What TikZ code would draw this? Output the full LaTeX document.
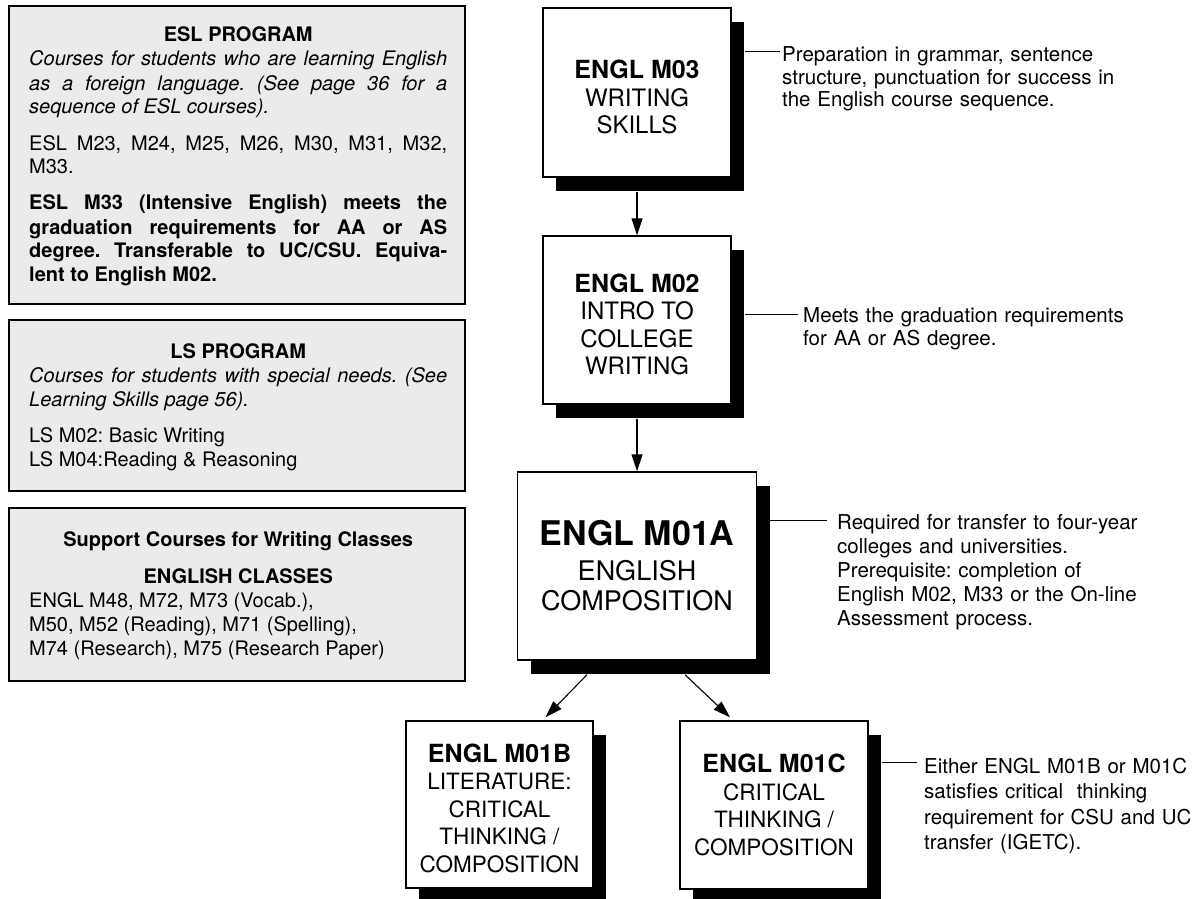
\documentclass[tikz,border=0pt]{standalone}
\usepackage{fontspec}
\setmainfont{TeX Gyre Heros}
\usetikzlibrary{shadows,arrows.meta,calc}
\definecolor{boxgray}{HTML}{EBEBEB}
\setlength{\parindent}{0pt}
\tolerance=10000
\hyphenpenalty=10000
\frenchspacing
\begin{document}
\begin{tikzpicture}[x=1pt,y=-1pt,
  infobox/.style={draw, line width=2.4pt, fill=boxgray, minimum width=456pt, inner sep=0pt},
  infotext/.style={anchor=base west, text width=418pt, align=justify, inner sep=0pt, font=\fontsize{20}{24}\selectfont},
  course/.style={draw, line width=1.4pt, fill=white, align=center, inner sep=0pt,
    drop shadow={shadow xshift=13pt, shadow yshift=-14pt, opacity=1, fill=black},
    font=\fontsize{24}{27.5}\selectfont},
  desc/.style={anchor=base west, text width=360pt, align=left, inner sep=0pt, font=\fontsize{20.5}{23.5}\selectfont},
  conn/.style={line width=1pt},
  arr/.style={line width=1.1pt, -{Triangle[length=17pt,width=11pt]}}
]
\path[use as bounding box, fill=white] (0,0) rectangle (1202,899);

% left info boxes
\node[infobox, minimum height=298pt] (esl) at (237,155) {};
\node[infotext] (esltxt) at (29,42) {%
{\centering\bfseries ESL PROGRAM\par}
{\itshape Courses for students who are learning English\linebreak as a foreign language. (See page 36 for a\linebreak sequence of ESL courses).\par}
\vspace{12pt}
ESL M23, M24, M25, M26, M30, M31, M32,\linebreak M33.\par
\vspace{12pt}
{\bfseries ESL M33 (Intensive English) meets the\linebreak graduation requirements for AA or AS\linebreak degree. Transferable to UC/CSU. Equiva-\linebreak lent to English M02.\par}};

\node[infobox, minimum height=171pt] (ls) at (237,405.5) {};
\node[infotext] (lstxt) at (29,358) {%
{\centering\bfseries LS PROGRAM\par}
{\itshape Courses for students with special needs. (See\linebreak Learning Skills page 56).\par}
\vspace{12pt}
LS M02: Basic Writing\par
LS M04:Reading \& Reasoning\par};

\node[infobox, minimum height=173pt] (sup) at (237,594.5) {};
\node[infotext] (suptxt) at (29,546) {%
{\centering\bfseries Support Courses for Writing Classes\par}
\vspace{13pt}
{\centering\bfseries ENGLISH CLASSES\par}
ENGL M48, M72, M73 (Vocab.),\par
M50, M52 (Reading), M71 (Spelling),\par
M74 (Research), M75 (Research Paper)\par};

% course boxes
\node[course, minimum width=188pt, minimum height=169pt] (m03) at (637,92.5)
  {{\bfseries\fontsize{25}{27.5}\selectfont ENGL M03\rule{0pt}{28pt}}\\WRITING\\SKILLS};
\node[course, minimum width=188pt, minimum height=168pt] (m02) at (637,320)
  {{\bfseries\fontsize{25}{27.5}\selectfont ENGL M02\rule{0pt}{27pt}}\\INTRO TO\\COLLEGE\\WRITING};
\node[course, minimum width=239pt, minimum height=188pt, font=\fontsize{27}{30}\selectfont] (m01a) at (637,566)
  {{\bfseries\fontsize{34}{34}\selectfont ENGL M01A}\\[5pt]ENGLISH\\COMPOSITION};
\node[course, minimum width=187pt, minimum height=167pt, font=\fontsize{22.5}{27.5}\selectfont] (m01b) at (499.5,804.5)
  {{\bfseries\fontsize{25}{27.5}\selectfont ENGL M01B\rule{0pt}{26pt}}\\LITERATURE:\\CRITICAL\\THINKING /\\COMPOSITION};
\node[course, minimum width=188pt, minimum height=168pt, font=\fontsize{22.5}{27.5}\selectfont] (m01c) at (774,805)
  {{\bfseries\fontsize{25}{27.5}\selectfont ENGL M01C}\\CRITICAL\\THINKING /\\COMPOSITION};

% arrows
\draw[arr] ($(m03.south)+(0,14)$) -- (m02.north);
\draw[arr] ($(m02.south)+(0,14)$) -- (m01a.north);
\draw[arr] ($(m01a.south)+(-50,14)$) -- ($(m01b.north)+(46,-3)$);
\draw[arr] ($(m01a.south)+(48,14)$) -- ($(m01c.north)+(-44,-3)$);

% descriptions
\node[desc, font=\fontsize{20.5}{22.5}\selectfont] (d03) at (782,62)
  {Preparation in grammar, sentence\\structure, punctuation for success in\\the English course sequence.};
\node[desc, font=\fontsize{20.5}{23}\selectfont] (d02) at (803,322)
  {Meets the graduation requirements\\for AA or AS degree.};
\node[desc, font=\fontsize{20.5}{24.2}\selectfont] (d01a) at (837,529)
  {Required for transfer to four-year\\colleges and universities.\\Prerequisite: completion of\\English M02, M33 or the On-line\\Assessment process.};
\node[desc, font=\fontsize{20.5}{25.5}\selectfont] (d01c) at (924,773)
  {Either ENGL M01B or M01C\\satisfies critical\ \ thinking\\requirement for CSU and UC\\transfer (IGETC).};

\coordinate (c03) at (780,52);
\coordinate (c02) at (798,314);
\coordinate (c01a) at (827,520);
\coordinate (c01c) at (917,762);
\draw[conn] ($(m03.east |- c03)+(13,0)$) -- (c03);
\draw[conn] ($(m02.east |- c02)+(13,0)$) -- (c02);
\draw[conn] ($(m01a.east |- c01a)+(13,0)$) -- (c01a);
\draw[conn] ($(m01c.east |- c01c)+(13,0)$) -- (c01c);
\end{tikzpicture}
\end{document}
